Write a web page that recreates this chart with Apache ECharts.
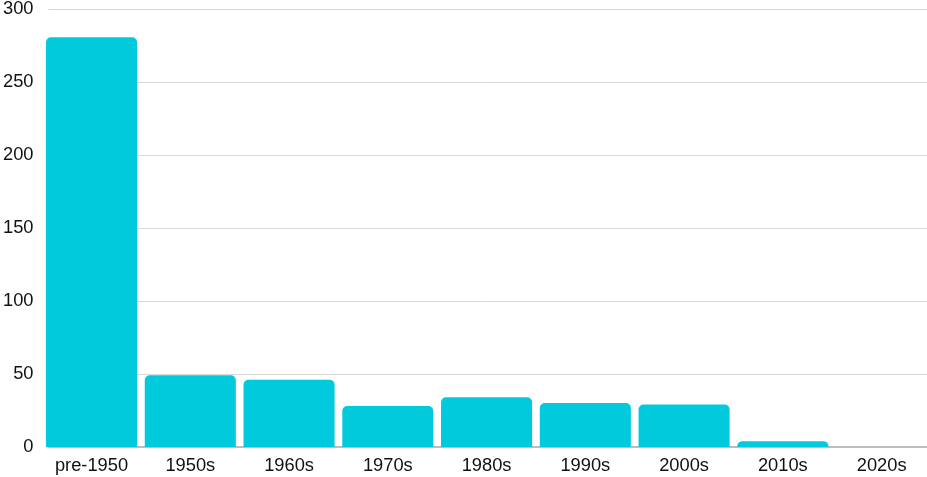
<!DOCTYPE html>
<html>
<head>
<meta charset="utf-8">
<script src="https://cdn.jsdelivr.net/npm/echarts@6/dist/echarts.min.js"></script>
<style>html,body{margin:0;padding:0;background:#fff;overflow:hidden}#c{width:931px;height:477px}</style>
</head>
<body>
<div id="c"></div>
<script>
const categories = ['pre-1950','1950s','1960s','1970s','1980s','1990s','2000s','2010s','2020s'];
const values = [280, 49, 46, 28, 34, 30, 29, 4, 0];
const yMin = 0, yMax = 300, yStep = 50;

const chart = echarts.init(document.getElementById('c'), null, {renderer:'canvas'});
const font = 'Liberation Sans, Arial, sans-serif';
chart.setOption({
  animation: false,
  grid: [
    {left: 42.15, right: 0, top: 8, bottom: 30},
    {left: 46, right: 4, top: 8, bottom: 30}
  ],
  xAxis: [
    {type:'category', gridIndex:0, data: categories, axisLine:{show:false}, axisTick:{show:false},
     axisLabel:{color:'#111', fontSize:18.3, fontFamily:font, margin:10}},
    {type:'category', gridIndex:1, data: categories, axisLine:{show:true, lineStyle:{color:'#bdbdbd', width:2}}, axisTick:{show:false},
     axisLabel:{show:false}}
  ],
  yAxis: [
    {type:'value', gridIndex:0, min:yMin, max:yMax, interval:yStep, show:false, splitLine:{show:false}},
    {type:'value', gridIndex:1, min:yMin, max:yMax, interval:yStep,
     axisLine:{show:false}, axisTick:{show:false},
     axisLabel:{color:'#111', fontSize:18.3, fontFamily:font, margin:15},
     splitLine:{lineStyle:{color:'#d9d9d9', width:1}}}
  ],
  series: [{
    type:'bar', xAxisIndex:0, yAxisIndex:0, data: values, z: 3,
    barCategoryGap: '7.8%',
    itemStyle:{color:'#00CADC', borderRadius:[5,5,0,0]}
  }]
});
</script>
</body>
</html>
